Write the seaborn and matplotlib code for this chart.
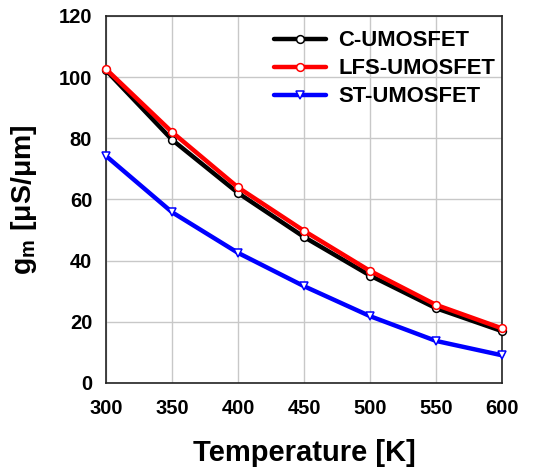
import numpy as np
import pandas as pd
import seaborn as sns
import matplotlib
matplotlib.use("Agg")
import matplotlib.pyplot as plt

temperature = [300, 350, 400, 450, 500, 550, 600]
gm_c = [102.2, 79.5, 62.1, 47.7, 35.1, 24.4, 16.9]
gm_lfs = [102.6, 82.0, 63.9, 49.7, 36.6, 25.5, 17.8]
gm_st = [74.2, 55.8, 42.5, 31.6, 21.8, 13.7, 9.0]

series_names = ["C-UMOSFET", "LFS-UMOSFET", "ST-UMOSFET"]
series_colors = ["#000000", "#ff0000", "#0000ff"]
series_markers = ["o", "o", "v"]

df = pd.DataFrame({
    "Temperature": temperature * 3,
    "gm": gm_c + gm_lfs + gm_st,
    "device": [n for n in series_names for _ in temperature],
})

sns.set_style("white")
plt.rcParams["font.family"] = ["Liberation Sans", "DejaVu Sans"]
plt.rcParams["font.weight"] = "bold"
plt.rcParams["text.color"] = "black"
plt.rcParams["axes.labelcolor"] = "black"
plt.rcParams["xtick.color"] = "black"
plt.rcParams["ytick.color"] = "black"

fig = plt.figure(figsize=(5.41, 4.68), dpi=100)
ax = fig.add_axes([0.196, 0.182, 0.732, 0.784])

for name, color, marker in zip(series_names, series_colors, series_markers):
    sub = df[df["device"] == name]
    sns.lineplot(data=sub, x="Temperature", y="gm", ax=ax, color=color,
                 linewidth=3.2, marker=marker, markersize=5.6,
                 markerfacecolor="white", markeredgecolor=color,
                 markeredgewidth=1.1, label=name, clip_on=False, zorder=3)

ax.set_xlim(300, 600)
ax.set_ylim(0, 120)
ax.set_xticks(temperature)
ax.set_yticks(range(0, 121, 20))
ax.grid(True, color="#c8c8c8", linewidth=1.0)
ax.set_axisbelow(True)
for sp in ax.spines.values():
    sp.set_color("#222222")
    sp.set_linewidth(1.2)
    sp.set_visible(True)

ax.tick_params(axis="both", direction="in", length=5, width=1, color="#222222",
               labelcolor="black", labelsize=14.5)
ax.tick_params(axis="x", pad=12)
ax.tick_params(axis="y", pad=10)
for lbl in ax.get_xticklabels() + ax.get_yticklabels():
    lbl.set_fontweight("bold")

ax.set_xlabel("Temperature [K]", fontsize=21, fontweight="bold", labelpad=15,
              color="black")
ax.set_ylabel(r"g$_\mathregular{m}$ [$\mathregular{\mu}$S/$\mathregular{\mu}$m]",
              fontsize=20.5, fontweight="bold", labelpad=14, color="black")

leg = ax.legend(loc="upper right", frameon=False, fontsize=15.8,
                handlelength=2.4, handletextpad=0.55, labelspacing=0.32,
                bbox_to_anchor=(1.005, 0.985), borderaxespad=0.0)
for t in leg.get_texts():
    t.set_fontweight("bold")
    t.set_color("black")

fig.savefig("out.png", dpi=100)
